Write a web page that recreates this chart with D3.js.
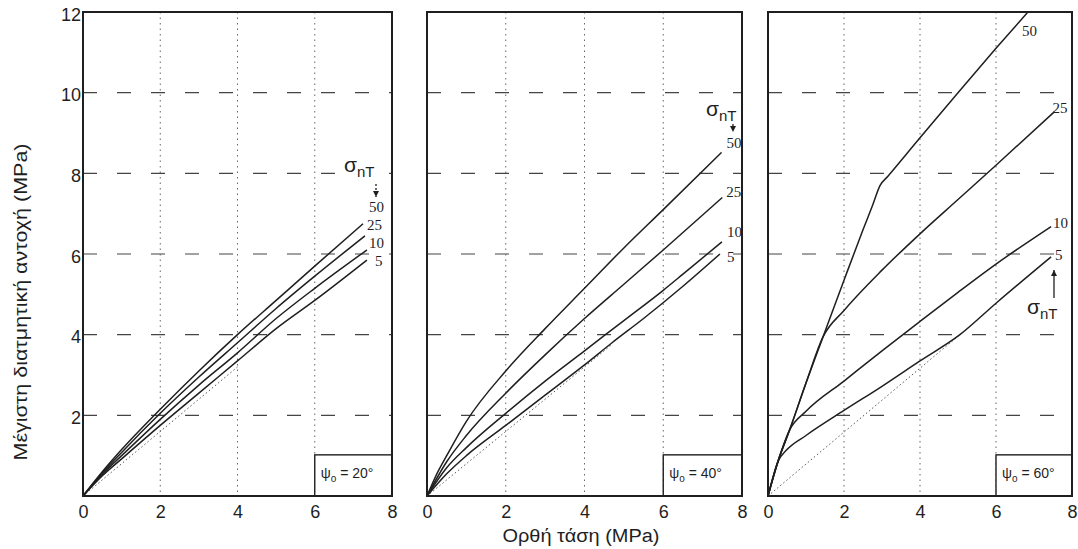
<!DOCTYPE html>
<html>
<head>
<meta charset="utf-8">
<script src="https://cdn.jsdelivr.net/npm/d3@7"></script>
<style>
  body { margin: 0; background: #fff; }
</style>
</head>
<body>
<div id="chart"></div>
<script>
// ---- data ----
const xTicks = [0, 2, 4, 6, 8];
const yTicks = [2, 4, 6, 8, 10, 12];
const psiAngles = [20, 40, 60];
const sigmaNT = ["50", "25", "10", "5"];

// ψo = 20°
const p20_50 = [[0,0],[0.5,0.6],[1,1.15],[2,2.15],[3,3.1],[4,4.0],[5,4.85],[6,5.7],[7.25,6.75]];
const p20_25 = [[0,0],[0.5,0.57],[1,1.08],[2,2.05],[3,2.95],[4,3.8],[5,4.65],[6,5.45],[7.3,6.45]];
const p20_10 = [[0,0],[0.5,0.54],[1,1.0],[2,1.9],[3,2.75],[4,3.55],[5,4.4],[6,5.15],[7.35,6.1]];
const p20_5  = [[0,0],[0.5,0.5],[1,0.92],[2,1.75],[3,2.55],[4,3.35],[5,4.15],[6,4.85],[7.35,5.85]];
const p20_res = [[0,0],[4,3.2]];

// ψo = 40°
const p40_50 = [[0,0],[0.25,0.55],[0.5,1.0],[1,1.85],[2,3.1],[3,4.15],[4,5.15],[5,6.15],[6,7.1],[7.48,8.52]];
const p40_25 = [[0,0],[0.5,0.85],[1,1.5],[2,2.55],[3,3.5],[4,4.4],[5,5.25],[6,6.1],[7.5,7.4]];
const p40_10 = [[0,0],[0.5,0.7],[1,1.2],[2,2.05],[3,2.85],[4,3.6],[5,4.35],[6,5.1],[6.5,5.5],[7.49,6.3]];
const p40_5  = [[0,0],[0.5,0.55],[1,1.0],[2,1.75],[3,2.5],[4,3.25],[4.7,3.8],[5.5,4.4],[6.5,5.2],[7.44,6.0]];
const p40_res = [[0,0],[4.7,3.76]];

// ψo = 60°
const p60_50 = [[0,0],[0.26,0.85],[0.57,1.64],[1,2.8],[1.45,3.95],[2,5.35],[2.5,6.6],[2.75,7.2],[2.95,7.7],[3.15,7.92],[4,8.88],[5,10.0],[6,11.1],[6.84,12.0]];
const p60_25 = [[0,0],[0.26,0.85],[0.57,1.64],[1,2.8],[1.45,3.95],[2,4.6],[3,5.6],[4,6.5],[5,7.35],[6,8.2],[7.54,9.53]];
const p60_10 = [[0,0],[0.26,0.85],[0.57,1.64],[1,2.1],[2,2.85],[3,3.6],[4,4.33],[5,5.05],[6,5.75],[7.45,6.68]];
const p60_5  = [[0,0],[0.26,0.85],[0.5,1.15],[1,1.5],[2,2.12],[3,2.72],[4,3.35],[5.05,4.0],[6,4.78],[7.45,5.93]];
const p60_res = [[0,0],[5.05,4.0]];

const panelSeries = [
  [p20_50, p20_25, p20_10, p20_5],
  [p40_50, p40_25, p40_10, p40_5],
  [p60_50, p60_25, p60_10, p60_5]
];
const panelResidual = [p20_res, p40_res, p60_res];

// ---- layout ----
const W = 1078, H = 549;
const ink = "#1f1f1f";
const plotTop = 12, plotBottom = 496;
const panels = [
  { x0: 83,  x1: 392 },
  { x0: 427, x1: 742 },
  { x0: 768, x1: 1072 }
];
// label offsets from each curve end (px), per panel
const labelOffsets = [
  [[6, -12], [2, -6], [2, -2], [8, 6]],
  [[5, -4], [4, -1], [5, -5], [7, 8]],
  [[-6, 24], [-2, 1], [2, 1], [4, 3]]
];

const svg = d3.select("#chart").append("svg")
  .attr("width", W).attr("height", H)
  .style("font-family", "'Liberation Sans', Arial, sans-serif");

const y = d3.scaleLinear().domain([0, 12]).range([plotBottom, plotTop]);

panels.forEach(function (p, i) {
  const x = d3.scaleLinear().domain([0, 8]).range([p.x0, p.x1]);
  const g = svg.append("g");

  g.append("clipPath").attr("id", "clip" + i)
    .append("rect").attr("x", p.x0).attr("y", plotTop).attr("width", p.x1 - p.x0).attr("height", plotBottom - plotTop);

  // horizontal dashed grid
  g.selectAll(".hgrid").data(yTicks.filter(d => d < 12)).enter().append("line")
    .attr("x1", p.x0).attr("x2", p.x1)
    .attr("y1", d => y(d)).attr("y2", d => y(d))
    .attr("stroke", "#444").attr("stroke-width", 1.2)
    .attr("stroke-dasharray", "14,20");

  // vertical dotted grid
  g.selectAll(".vgrid").data(xTicks.filter(d => d > 0 && d < 8)).enter().append("line")
    .attr("x1", d => x(d)).attr("x2", d => x(d))
    .attr("y1", plotTop).attr("y2", plotBottom)
    .attr("stroke", "#666").attr("stroke-width", 1)
    .attr("stroke-dasharray", "1.5,4");

  // psi box
  g.append("rect")
    .attr("x", x(6)).attr("y", y(1.02))
    .attr("width", x(8) - x(6)).attr("height", y(0) - y(1.02))
    .attr("fill", "#fff").attr("stroke", ink).attr("stroke-width", 1.4);
  const pt = g.append("text")
    .attr("x", x(6) + 6).attr("y", y(0) - 18)
    .attr("font-size", 14).attr("fill", ink);
  pt.append("tspan").text("ψ");
  pt.append("tspan").attr("font-size", 10).attr("dy", 4).text("o");
  pt.append("tspan").attr("dy", -4).text(" = " + psiAngles[i] + "°");

  // residual (dotted) line
  g.append("path")
    .datum(panelResidual[i])
    .attr("d", d3.line().x(d => x(d[0])).y(d => y(d[1])))
    .attr("fill", "none").attr("stroke", "#555").attr("stroke-width", 1)
    .attr("stroke-dasharray", "1.5,2.5");

  // curves
  const line = d3.line().x(d => x(d[0])).y(d => y(d[1])).curve(d3.curveMonotoneX);
  g.append("g").attr("clip-path", "url(#clip" + i + ")")
    .selectAll("path").data(panelSeries[i]).enter().append("path")
    .attr("d", line)
    .attr("fill", "none").attr("stroke", ink).attr("stroke-width", 1.5);

  // curve labels
  panelSeries[i].forEach(function (s, k) {
    const end = s[s.length - 1];
    g.append("text")
      .attr("x", x(end[0]) + labelOffsets[i][k][0])
      .attr("y", y(end[1]) + labelOffsets[i][k][1])
      .attr("font-family", "'Liberation Serif', serif")
      .attr("font-size", 15).attr("fill", ink)
      .text(sigmaNT[k]);
  });

  // frame
  g.append("rect")
    .attr("x", p.x0).attr("y", plotTop)
    .attr("width", p.x1 - p.x0).attr("height", plotBottom - plotTop)
    .attr("fill", "none").attr("stroke", ink).attr("stroke-width", 2);

  // x axis labels
  const xa = g.append("g").attr("transform", `translate(0, ${plotBottom})`)
    .call(d3.axisBottom(x).tickValues(xTicks).tickSize(0).tickPadding(9).tickFormat(d3.format("d")));
  xa.select(".domain").remove();
  xa.selectAll("text").attr("font-size", 18).attr("font-family", "'Liberation Sans', Arial, sans-serif").attr("fill", ink);

  if (i === 0) {
    const ya = g.append("g").attr("transform", `translate(${p.x0}, 0)`)
      .call(d3.axisLeft(y).tickValues(yTicks).tickSize(0).tickPadding(2).tickFormat(d3.format("d")));
    ya.select(".domain").remove();
    ya.selectAll("text").attr("font-size", 18).attr("font-family", "'Liberation Sans', Arial, sans-serif").attr("fill", ink).attr("dy", "0.45em");
  }
});

// sigma_nT annotations
function sigmaLabel(px, py, bg) {
  if (bg) {
    svg.append("rect").attr("x", px - 3).attr("y", py - 16).attr("width", 38).attr("height", 24).attr("fill", "#fff");
  }
  const t = svg.append("text").attr("x", px).attr("y", py).attr("fill", ink);
  t.append("tspan").attr("font-size", 21).text("σ");
  t.append("tspan").attr("font-size", 15).attr("dy", 5).text("nT");
}
function arrow(px, ya, yb) {
  const dir = yb > ya ? 1 : -1;
  svg.append("line").attr("x1", px).attr("x2", px).attr("y1", ya).attr("y2", yb)
    .attr("stroke", ink).attr("stroke-width", 1.3).attr("stroke-dasharray", dir > 0 ? "2,2" : null);
  svg.append("path")
    .attr("d", `M${px - 3},${yb - 6 * dir} L${px + 3},${yb - 6 * dir} L${px},${yb} Z`)
    .attr("fill", ink);
}
sigmaLabel(344, 172, true);
arrow(376, 184, 197);
sigmaLabel(706, 116, false);
arrow(733, 124, 132);
sigmaLabel(1027, 314, false);
arrow(1054, 298, 270);

// axis titles
svg.append("text")
  .attr("x", 581).attr("y", 542)
  .attr("text-anchor", "middle").attr("font-size", 18).attr("fill", ink)
  .attr("textLength", 157).attr("lengthAdjust", "spacingAndGlyphs")
  .text("Ορθή τάση (MPa)");
svg.append("text")
  .attr("transform", "translate(27, 302) rotate(-90)")
  .attr("text-anchor", "middle").attr("font-size", 19).attr("fill", ink)
  .attr("textLength", 317).attr("lengthAdjust", "spacingAndGlyphs")
  .text("Μέγιστη διατμητική αντοχή (MPa)");
</script>
</body>
</html>
